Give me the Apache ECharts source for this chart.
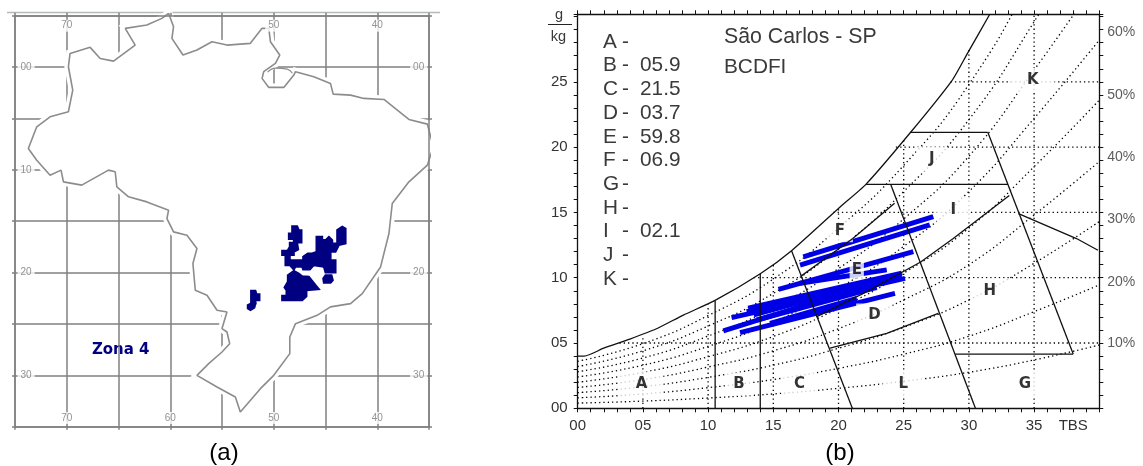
<!DOCTYPE html>
<html><head><meta charset="utf-8">
<style>html,body{margin:0;padding:0;background:#fff}#c{width:1143px;height:466px}</style>
<script src="https://cdn.jsdelivr.net/npm/echarts@6/dist/echarts.min.js"></script>
</head><body><div id="c"></div>
<script>
// ---------- map data (lon, lat) ----------
const brazilOutline = [[-60.16,5.23],[-59.68,3.93],[-59.84,2.79],[-58.77,1.17],[-57.42,1.66],[-55.97,2.47],[-54.52,2.14],[-52.26,2.31],[-51.13,3.77],[-50.48,3.77],[-50.32,2.47],[-49.42,1.17],[-49.84,0.36],[-50.97,-0.45],[-51.13,-1.10],[-50.48,-1.98],[-49.03,-1.98],[-48.06,-0.78],[-47.90,-0.45],[-46.13,-0.94],[-44.52,-1.59],[-44.26,-2.63],[-42.58,-2.73],[-41.29,-3.05],[-39.35,-3.15],[-38.06,-4.19],[-36.94,-5.10],[-35.16,-5.55],[-34.58,-7.76],[-35.16,-9.55],[-36.94,-11.17],[-38.55,-13.28],[-38.87,-16.2],[-39.68,-19.45],[-41.45,-22.05],[-42.58,-23.02],[-44.52,-23.34],[-45.81,-24.16],[-47.90,-24.97],[-48.45,-26.27],[-48.45,-27.89],[-50,-30],[-51.29,-31.3],[-53.23,-33.57],[-53.71,-32.11],[-55.48,-31.14],[-57.42,-30],[-56.29,-28.86],[-55,-27.73],[-54.26,-26.92],[-54.52,-25.78],[-55,-25.45],[-54.52,-23.83],[-55.48,-23.67],[-56.45,-22.21],[-57.58,-21.72],[-57.81,-19.12],[-57.42,-17.66],[-58.39,-16.36],[-59.68,-16.04],[-60.32,-14.74],[-60.16,-13.93],[-62.26,-13.12],[-64.03,-12.63],[-65.16,-11.66],[-65.32,-10.19],[-65.97,-10.03],[-68.55,-11.49],[-70.32,-11.17],[-70.55,-10.03],[-71.61,-10.52],[-72.90,-9.06],[-73.71,-7.92],[-72.90,-5.81],[-71.61,-4.84],[-69.84,-4.35],[-69.42,-2.24],[-69.84,0.03],[-69.68,1.33],[-67.74,1.92],[-66.77,0.84],[-65.48,0.58],[-63.39,2.14],[-64.35,3.77],[-62.26,4.09],[-60.81,4.74],[-60.16,5.23]];
const marajoIsland = [[-50.6,-0.5],[-49.8,-0.1],[-48.7,-0.2],[-48.2,-0.6]];
const zoneNorth = [[-48.22,-15.48],[-47.74,-15.48],[-47.58,-15.87],[-47.32,-15.87],[-47.32,-17.07],[-48.06,-17.07],[-48.06,-16.74],[-48.54,-16.74],[-48.54,-16.19],[-48.22,-16.19]];
const zoneMiddle = [[-48.45,-17.10],[-47.74,-17.10],[-47.64,-17.75],[-48.06,-17.98],[-48.06,-18.30],[-48.64,-18.30],[-48.64,-17.82],[-48.45,-17.49]];
const zoneDot = [[-49.19,-17.88],[-48.77,-17.88],[-48.77,-18.30],[-49.19,-18.30]];
const zoneBand = [[-48.87,-18.47],[-48.45,-18.47],[-48.45,-18.79],[-47.16,-18.79],[-47.16,-18.47],[-46.71,-18.14],[-46.29,-18.14],[-45.87,-17.98],[-45.87,-16.52],[-45.32,-16.52],[-45.32,-16.84],[-45.0,-16.84],[-44.67,-16.52],[-44.35,-16.84],[-44.35,-17.17],[-43.87,-17.17],[-43.87,-15.87],[-43.38,-15.54],[-43.06,-15.71],[-43.06,-17.17],[-43.71,-17.33],[-44.03,-17.98],[-44.51,-17.98],[-44.51,-18.79],[-44.03,-18.79],[-44.03,-19.99],[-45.0,-19.99],[-45.16,-19.44],[-46.13,-19.28],[-46.51,-19.70],[-47.16,-19.70],[-47.25,-19.44],[-47.90,-19.44],[-48.06,-19.70],[-48.45,-19.28],[-48.87,-19.28]];
const zoneEast = [[-45.0,-20.25],[-44.42,-20.25],[-44.29,-20.74],[-44.51,-21.0],[-45.16,-21.0],[-45.22,-20.58]];
const zoneSouth = [[-48.06,-19.83],[-47.58,-20.09],[-47.25,-20.35],[-46.61,-20.41],[-45.96,-21.23],[-45.64,-21.61],[-46.84,-21.71],[-46.84,-22.30],[-47.25,-22.69],[-49.19,-22.69],[-49.19,-22.26],[-48.77,-22.26],[-48.77,-21.71],[-48.96,-21.45],[-48.64,-20.90],[-48.64,-20.25]];
const zoneWestA = [[-52.19,-21.78],[-51.77,-21.78],[-51.67,-22.10],[-51.38,-22.10],[-51.38,-22.69],[-51.77,-22.69],[-51.77,-23.01],[-52.19,-23.01]];
const zoneWestB = [[-52.19,-23.01],[-51.77,-23.01],[-51.87,-23.40],[-52.25,-23.66],[-52.51,-23.50],[-52.51,-23.17]];
const mapLonTop = [-70,-50,-40], mapLonBottom = [-70,-60,-50,-40];
const mapLatLeft = [0,-10,-20,-30], mapLatRight = [0,-20,-30];

// ---------- psychrometric data (dry bulb °C, g/kg) ----------
const saturation = [[0,4.0],[0.5,4.0],[2,4.6],[4,5.3],[6,6.07],[8.1,7.14],[10.5,8.24],[14,10.3],[16.4,12.07],[20.1,15.4],[22.1,17.15],[25.5,21.1],[28.7,25.1],[29.9,27.2],[31.6,30.17]];
const rhTemps = [0,5,10,15,20,25,30,35,40];
const rh10 = [0.4,0.55,0.79,1.1,1.53,2.07,2.76,3.7,4.85];
const rh20 = [0.8,1.1,1.58,2.2,3.06,4.14,5.52,7.4,9.45];
const rh30 = [1.2,1.65,2.37,3.3,4.6,6.2,8.3,11.1,14.3];
const rh40 = [1.6,2.2,3.16,4.4,6.1,8.3,11.0,14.8,18.9];
const rh50 = [2.0,2.75,3.95,5.5,7.65,10.35,13.8,18.5,23.6];
const rh60 = [2.4,3.3,4.74,6.6,9.2,12.4,16.6,22.2,28.2];
const rh70 = [2.8,3.85,5.53,7.7,10.7,14.5,19.3,25.9,33];
const rh80 = [3.2,4.4,6.3,8.8,12.2,16.6,22.1,29.6,38];
const rh90 = [3.6,4.95,7.1,9.9,13.8,18.6,24.8,33.3,43];
const gridTemps = [5,10,15,20,25,30,35], gridTempTops = [5.4,7.95,11,15.3,20.7,27.6,30.17];
const gridHumids = [5,10,15,20,25], gridHumidStarts = [3.2,13.5,19.6,24.4,28.6];
const boundaries = [
  [[10.54,0],[10.54,8.24]],
  [[14,0],[14,10.3]],
  [[16.4,12.07],[21.06,0]],
  [[24,17.15],[30.5,0]],
  [[17.1,10.1],[21.1,13.0],[24.3,15.7]],
  [[18.3,7.0],[22.1,8.9],[26.3,11.2],[28.8,13.0],[33.1,16.3]],
  [[19.35,4.6],[23.7,5.74],[27.65,7.27]],
  [[22.1,17.15],[33,17.15]],
  [[25.5,21.13],[31.45,21.13]],
  [[31.45,21.13],[38,4.15]],
  [[33.8,14.9],[38.25,13.0],[39.9,12.1]],
  [[28.95,4.15],[38,4.15]]
];
const records = [
  [[17.3,11.6],[27.27,14.67]],
  [[17.05,10.97],[27.0,14.04]],
  [[15.4,9.1],[25.74,12.0]],
  [[17.05,9.57],[23.7,10.6]],
  [[13.08,7.66],[24.85,10.34]],
  [[12.96,7.4],[24.85,10.13]],
  [[13.5,7.15],[23.6,9.9]],
  [[11.8,6.94],[25.1,9.95]],
  [[13.73,6.76],[22.93,9.27]],
  [[14.75,6.51],[21.4,8.42]],
  [[11.17,5.92],[20.35,8.8]],
  [[12.45,5.79],[24.33,8.8]]
];
const zoneLetters = ['A','B','C','L','G','H','D','E','F','I','J','K'];
const zoneX = [4.9,12.37,17,24.97,34.3,31.6,22.75,21.4,20.1,28.8,27.15,34.9];
const zoneY = [1.86,1.86,1.86,1.86,1.86,9.0,7.14,10.6,13.6,15.2,19.07,25.1];
const rhLabels = ['10%','20%','30%','40%','50%','60%'];
const rhLabelY = [4.98,9.67,14.5,19.24,24,28.8];
const tableLetters = ['A','B','C','D','E','F','G','H','I','J','K'];
const tableValues = ['','05.9','21.5','03.7','59.8','06.9','','','02.1','',''];

const F = '"Liberation Sans", Arial, sans-serif';
const chart = echarts.init(document.getElementById('c'), null, {renderer:'canvas'});
const gray = '#808080';
const mapTick = {show:true,length:3,inside:false,lineStyle:{color:gray,width:1.5}};
const mapAxis = (pos,min,max,grid,split,z)=>({type:'value',gridIndex:grid,position:pos,min,max,interval:5,z,
  axisLine:{show:true,onZero:false,lineStyle:{color:gray,width:1.5}},axisTick:mapTick,axisLabel:{show:false},
  splitLine:{show:split,lineStyle:{color:gray,width:1.5}}});
const fmtX = v => v===38 ? 'TBS' : (v%5===0 && v<40 ? String(v).padStart(2,'0') : '');
const fmtY = v => (Number.isInteger(v) && v%5===0 && v<30) ? String(v).padStart(2,'0') : '';
const psyAxis = (pos,max,fmt)=>({type:'value',gridIndex:1,position:pos,min:0,max,interval:1,
  axisLine:{show:true,onZero:false,lineStyle:{color:'#111',width:1.3}},
  axisTick:{show:true,length:4,lineStyle:{color:'#111',width:1}},
  axisLabel:{show:!!fmt,formatter:fmt,color:'#333',fontFamily:F,fontSize:15,margin:10,hideOverlap:false},
  splitLine:{show:false}});

const series = [];
const polyRender = (pts,style) => (params,api)=>({type:'polygon',shape:{points:pts.map(p=>api.coord(p))},style});
series.push({type:'custom',name:'halo',xAxisIndex:0,yAxisIndex:0,z:3,silent:true,clip:false,data:[brazilOutline[0]],
  renderItem:polyRender(brazilOutline,{fill:'#fff',stroke:'#fff',lineWidth:8})});
series.push({type:'line',name:'Brasil',xAxisIndex:0,yAxisIndex:0,z:4,symbol:'none',data:brazilOutline,clip:false,lineStyle:{color:'#8c8c8c',width:1.6}});
series.push({type:'line',name:'Marajó',xAxisIndex:0,yAxisIndex:0,z:4,symbol:'none',data:marajoIsland,smooth:true,lineStyle:{color:'#8c8c8c',width:1.2}});
[zoneNorth,zoneMiddle,zoneDot,zoneBand,zoneEast,zoneSouth,zoneWestA,zoneWestB].forEach((z,i)=>{
  series.push({type:'custom',name:'Zona 4 '+i,xAxisIndex:0,yAxisIndex:0,z:5,silent:true,data:[z[0]],
    renderItem:polyRender(z,{fill:'#000080',stroke:'#000080',lineWidth:2,lineJoin:'miter'})});
});
const mapLabel = (name,xs,ys,fmt)=>({type:'scatter',name,xAxisIndex:0,yAxisIndex:0,z:6,symbolSize:0,silent:true,
  data:xs.flatMap(x=>ys.map(y=>[x,y])),
  label:{show:true,position:'inside',formatter:fmt,color:'#777',fontFamily:F,fontSize:10,backgroundColor:'#fff',padding:[1,3]}});
const lonFmt = p=>String(-p.value[0]), latFmt = p=>String(-p.value[1]).padStart(2,'0');
series.push(mapLabel('lonTop',mapLonTop,[4.03],lonFmt));
series.push(mapLabel('lonBottom',mapLonBottom,[-34.15],lonFmt));
series.push(mapLabel('latLeft',[-73.93],mapLatLeft,latFmt));
series.push(mapLabel('latRight',[-36.0],mapLatRight,latFmt));

const dotted = {color:'#000',width:1.3,type:[1.3,3]};
const line = (name,data,z,lineStyle,extra)=>Object.assign({type:'line',name,xAxisIndex:2,yAxisIndex:2,z,symbol:'none',data,lineStyle,silent:true,animation:false},extra||{});
[rh10,rh20,rh30,rh40,rh50,rh60,rh70,rh80,rh90].forEach((c,i)=>{
  series.push(line('rh'+(i+1)*10,c.map((v,k)=>[rhTemps[k],v]),2,dotted,{smooth:true}));
});
gridTemps.forEach((t,i)=>series.push(line('T'+t,[[t,0],[t,gridTempTops[i]]],2,dotted)));
gridHumids.forEach((h,i)=>series.push(line('W'+h,[[gridHumidStarts[i],h],[40,h]],2,dotted)));
records.forEach((r,i)=>series.push(line('rec'+i,r,3,{color:'#0000e6',width:5,cap:'butt'})));
const padFor = {A:[5,16],B:[4,7],C:[5,12],L:[5,16],G:[5,14],H:[5,12],D:[4,12],E:[1,2],F:[4,8],I:[5,14],J:[5,13],K:[5,16]};
series.push({type:'scatter',name:'zonas',xAxisIndex:2,yAxisIndex:2,z:4,symbolSize:0,silent:true,
  data:zoneLetters.map((l,i)=>({value:[zoneX[i],zoneY[i]],name:l,label:{padding:padFor[l]}})),
  label:{show:true,position:'inside',formatter:p=>p.name,color:'#000',fontFamily:'"DejaVu Sans"',fontWeight:'bold',fontSize:15,backgroundColor:'#fff'}});
boundaries.forEach((b,i)=>series.push(line('b'+i,b,5,{color:'#111',width:1.3})));
series.push(line('saturation',saturation,5,{color:'#111',width:1.3},{smooth:0.2}));
series.push({type:'scatter',name:'rhLabels',xAxisIndex:2,yAxisIndex:2,z:6,symbolSize:0,silent:true,clip:false,
  data:rhLabels.map((l,i)=>({value:[40,rhLabelY[i]],name:l})),
  label:{show:true,position:'right',distance:8,formatter:p=>p.name,color:'#333',fontFamily:F,fontSize:14}});

const bodyFont = '20.8px '+F;
const txt = (x,y,text,o)=>({type:'text',x,y,silent:true,style:Object.assign({text,fill:'#3a3a3a',font:bodyFont,textVerticalAlign:'middle'},o||{})});
const graphics = [
  txt(120.7,350,'Zona 4',{fill:'#000080',font:'bold 15px "DejaVu Sans"',textAlign:'center'}),
  txt(224,453,'(a)',{fill:'#000',font:'24px '+F,textAlign:'center'}),
  txt(840,453,'(b)',{fill:'#000',font:'24px '+F,textAlign:'center'}),
  txt(724,37,'São Carlos - SP',{font:'21.3px '+F}),
  txt(724,67,'BCDFI'),
  txt(559,15,'g',{font:'14.5px '+F,textAlign:'center'}),
  txt(558.5,37,'kg',{font:'14.5px '+F,textAlign:'center'}),
  {type:'line',silent:true,z:20,shape:{x1:548,y1:24.5,x2:572,y2:24.5},style:{stroke:'#222',lineWidth:1}},
  {type:'line',silent:true,shape:{x1:7,y1:12.5,x2:440,y2:12.5},style:{stroke:'#b4bab4',lineWidth:1.5}}
];
tableLetters.forEach((l,i)=>{
  const y = 42 + i*23.7;
  graphics.push(txt(603,y,l));
  graphics.push(txt(622,y,'-'));
  if(tableValues[i]) graphics.push(txt(640,y,tableValues[i]));
});

chart.setOption({
  animation:false,
  backgroundColor:'#fff',
  grid:[
    {left:15,top:15.7,width:414,height:411},
    {left:577.7,top:14.3,width:521.6,height:394}
  ],
  xAxis:[
    mapAxis('bottom',-75,-35,0,true,1),
    mapAxis('top',-75,-35,0,false,5),
    psyAxis('bottom',40,fmtX),
    psyAxis('top',40,null)
  ],
  yAxis:[
    mapAxis('left',-35,5,0,true,1),
    mapAxis('right',-35,5,0,false,5),
    psyAxis('left',30.17,fmtY),
    psyAxis('right',30.17,null)
  ],
  series,
  graphic:graphics
});
</script></body></html>
